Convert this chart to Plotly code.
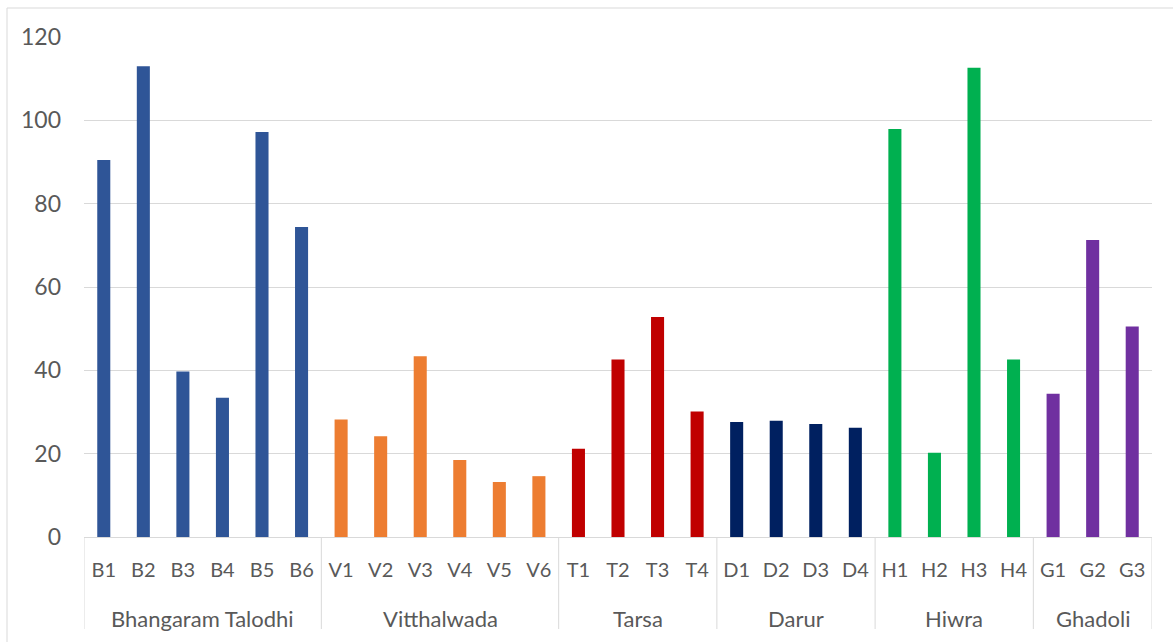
import plotly.graph_objects as go

# Sampling sites grouped by village
villages = ["Bhangaram Talodhi", "Vitthalwada", "Tarsa", "Darur", "Hiwra", "Ghadoli"]
sites = [
    ["B1", "B2", "B3", "B4", "B5", "B6"],
    ["V1", "V2", "V3", "V4", "V5", "V6"],
    ["T1", "T2", "T3", "T4"],
    ["D1", "D2", "D3", "D4"],
    ["H1", "H2", "H3", "H4"],
    ["G1", "G2", "G3"],
]
values = [
    [90.5, 113.0, 39.7, 33.4, 97.2, 74.4],
    [28.2, 24.2, 43.4, 18.5, 13.2, 14.6],
    [21.2, 42.6, 52.8, 30.1],
    [27.6, 27.9, 27.1, 26.2],
    [97.9, 20.2, 112.6, 42.6],
    [34.4, 71.3, 50.5],
]
village_colors = ["#2F5597", "#ED7D31", "#C00000", "#002060", "#00B050", "#7030A0"]
y_ticks = [0, 20, 40, 60, 80, 100, 120]

site_x, ys, colors = [], [], []
for s, vals, c in zip(sites, values, village_colors):
    site_x += s
    ys += vals
    colors += [c] * len(s)

fig = go.Figure(
    go.Bar(
        x=site_x,
        y=ys,
        marker=dict(color=colors, line=dict(width=0)),
        showlegend=False,
    )
)

W, H = 1173, 642
L, R, T, B = 84, 21, 37, 105
pw, ph = W - L - R, H - T - B
grid_col = "#D9D9D9"
text_col = "#595959"
font_family = "Lato, 'Open Sans', sans-serif"

fig.update_layout(
    width=W,
    height=H,
    margin=dict(l=L, r=R, t=T, b=B),
    paper_bgcolor="white",
    plot_bgcolor="white",
    bargap=0.67,
    font=dict(family=font_family, size=20, color=text_col),
    xaxis=dict(
        type="category",
        range=[-0.5, len(site_x) - 0.5],
        showline=True,
        linecolor=grid_col,
        linewidth=1,
        showgrid=False,
        ticks="",
        ticklabelstandoff=15,
        tickfont=dict(size=20, color=text_col),
    ),
    yaxis=dict(
        range=[0, 120],
        tickvals=y_ticks,
        showgrid=True,
        gridcolor=grid_col,
        gridwidth=1,
        zeroline=False,
        showline=False,
        ticks="",
        ticklabelstandoff=22,
        tickfont=dict(size=23, color=text_col),
    ),
)

# Village group labels and divider lines under the category axis
divider_depth = 92 / ph
label_depth = 81 / ph
start = 0
boundaries = [-0.5]
for v, s in zip(villages, sites):
    end = start + len(s)
    fig.add_annotation(
        x=(start + end - 1) / 2,
        xref="x",
        y=-label_depth,
        yref="paper",
        text=v,
        showarrow=False,
        yanchor="middle",
        font=dict(size=22, color=text_col),
    )
    boundaries.append(end - 0.5)
    start = end

for b in boundaries:
    fig.add_shape(
        type="line",
        xref="x",
        yref="paper",
        x0=b,
        x1=b,
        y0=0,
        y1=-divider_depth,
        line=dict(color=grid_col, width=1),
    )

# Chart frame
fig.add_shape(
    type="rect",
    xref="paper",
    yref="paper",
    x0=(7 - L) / pw,
    x1=(W + 5 - L) / pw,
    y0=-(H + 5 - T - ph) / ph,
    y1=1 + (T - 8) / ph,
    line=dict(color=grid_col, width=1),
    fillcolor="rgba(0,0,0,0)",
    layer="below",
)

fig.write_html("out.html")
